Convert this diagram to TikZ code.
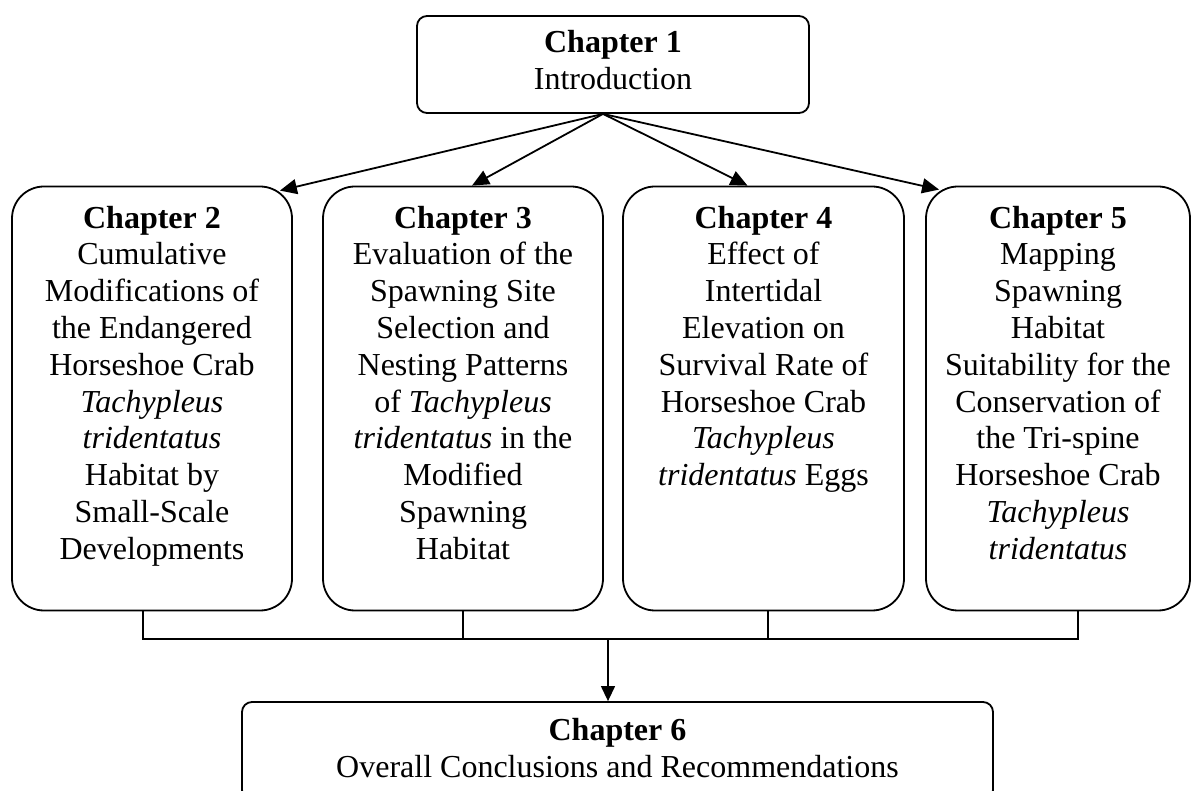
\documentclass[tikz,border=0pt]{standalone}
\usepackage{fontspec}
\setmainfont{Liberation Serif}
\usetikzlibrary{arrows.meta}

\begin{document}
\begin{tikzpicture}[
      x=1pt, y=-1pt,
      font=\fontsize{32}{36.8}\selectfont,
      chap/.style={draw=black, line width=1.8pt, rounded corners=10pt},
      tall/.style={chap, rounded corners=32pt, minimum height=424pt},
      title/.style={align=center, inner sep=0pt, anchor=north},
      link/.style={-{Triangle[length=17pt, width=15pt]}, line width=1.8pt},
      tick/.style={line width=1.3pt},
      bracket/.style={line width=2pt, line cap=rect}
    ]
      \useasboundingbox (0,0) rectangle (1195,791);

      % Chapter 1 on top
      \node[chap, minimum width=392pt, minimum height=97pt]
        (c1)
        at
        (613,64.5)
        {};
      \node[title] (t1) at ([yshift=-15pt]c1.north)
        {\textbf{Chapter 1}\\Introduction};

      % The four middle chapters
      \node[tall, minimum width=280pt] (c2) at (152,398.5) {};
      \node[title] (t2) at ([yshift=-20pt]c2.north)
        {\textbf{Chapter 2}\\Cumulative\\Modifications of\\the Endangered\\Horseshoe Crab\\
         \textit{Tachypleus}\\\textit{tridentatus}\\Habitat by\\Small-Scale\\Developments};

      \node[tall, minimum width=280pt] (c3) at (463,398.5) {};
      \node[title] (t3) at ([yshift=-20pt]c3.north)
        {\textbf{Chapter 3}\\Evaluation of the\\Spawning Site\\Selection and\\Nesting Patterns\\
         of \textit{Tachypleus}\\\textit{tridentatus} in the\\Modified\\Spawning\\Habitat};

      \node[tall, minimum width=281pt] (c4) at (763.5,398.5) {};
      \node[title] (t4) at ([yshift=-20pt]c4.north)
        {\textbf{Chapter 4}\\Effect of\\Intertidal\\Elevation on\\Survival Rate of\\
         Horseshoe Crab\\\textit{Tachypleus}\\\textit{tridentatus} Eggs};

      \node[tall, minimum width=264pt] (c5) at (1058,398.5) {};
      \node[title] (t5) at ([yshift=-20pt]c5.north)
        {\textbf{Chapter 5}\\Mapping\\Spawning\\Habitat\\Suitability for the\\Conservation of\\
         the Tri-spine\\Horseshoe Crab\\\textit{Tachypleus}\\\textit{tridentatus}};

      % Chapter 6 at the bottom (cut by the page edge)
      \node[chap, minimum width=751pt, minimum height=98pt]
        (c6)
        at
        (617.5,751)
        {};
      \node[title] (t6) at ([yshift=-17pt]c6.north)
        {\textbf{Chapter 6}\\Overall Conclusions and Recommendations};

      % Arrows out of chapter 1
      \coordinate (src) at ([xshift=-10pt]c1.south);
      \draw[link] (src) -- ([xshift=-13pt, yshift=-5pt]c2.north east);
      \draw[link] (src) -- ([xshift=9pt]c3.north);
      \draw[link] (src) -- ([xshift=-16pt]c4.north);
      \draw[link] (src) -- ([xshift=14pt, yshift=-4pt]c5.north west);

      % Bracket joining chapters 2-5
      \coordinate (k2) at ([xshift=-9pt]c2.south);
      \coordinate (k3) at (c3.south);
      \coordinate (k4) at ([xshift=4.5pt]c4.south);
      \coordinate (k5) at ([xshift=20pt]c5.south);
      \coordinate (bl) at (k2 |- 0,639);
      \coordinate (br) at (k5 |- 0,639);
      \draw[bracket] (bl) -- (br);
      \draw[tick] (k2) -- (bl);
      \draw[tick] (k3) -- (k3 |- bl);
      \draw[tick] (k4) -- (k4 |- bl);
      \draw[tick] (k5) -- (br);

      % Down to chapter 6
      \coordinate (j) at (608,639);
      \draw[tick, -{Triangle[length=15pt, width=14pt]}] (j) -- (j |- c6.north);
    \end{tikzpicture}
\end{document}
